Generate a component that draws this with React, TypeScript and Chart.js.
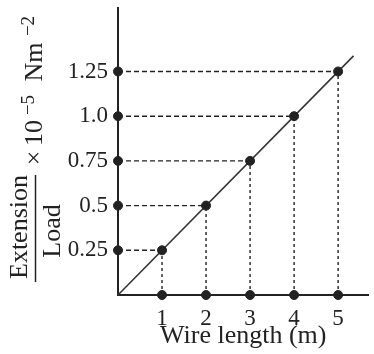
import React, { useEffect, useRef } from "react";
import { Chart, registerables } from "chart.js";

Chart.register(...registerables);

// ---- data ----
const wireLength = [1, 2, 3, 4, 5];
const extensionPerLoad = [0.25, 0.5, 0.75, 1.0, 1.25];
const xTickValues = [1, 2, 3, 4, 5];
const xTickLabels = ["1", "2", "3", "4", "5"];
const yTickValues = [0.25, 0.5, 0.75, 1.0, 1.25];
const yTickLabels = ["0.25", "0.5", "0.75", "1.0", "1.25"];
const fitLineX = [0, 5.35];
const fitLineY = [0, 1.3375];
const xAxisMax = 5.69;
const yAxisMax = 1.605;
const xTitle = "Wire length (m)";

const INK = "#222";
const FONT = '"Liberation Serif", "DejaVu Serif", serif';

const yTitlePlugin = {
  id: "yTitleFraction",
  afterDraw(chart: any) {
    const ctx = chart.ctx as CanvasRenderingContext2D;
    const big = `26px ${FONT}`;
    const small = `19px ${FONT}`;
    const put = (text: string, font: string, baselineX: number, centerY: number) => {
      ctx.save();
      ctx.translate(baselineX, centerY);
      ctx.rotate(-Math.PI / 2);
      ctx.font = font;
      ctx.fillStyle = INK;
      ctx.textAlign = "center";
      ctx.textBaseline = "alphabetic";
      ctx.fillText(text, 0, 0);
      ctx.restore();
    };
    ctx.save();
    put("Extension", big, 27, 227);
    put("Load", big, 60, 231);
    ctx.strokeStyle = INK;
    ctx.lineWidth = 1.5;
    ctx.beginPath();
    ctx.moveTo(35.5, 175);
    ctx.lineTo(35.5, 282);
    ctx.stroke();
    put("×", big, 42, 158);
    put("10", big, 42, 133);
    put("−5", small, 34, 105);
    put("Nm", big, 42, 62);
    put("−2", small, 34, 26);
    ctx.restore();
  },
};

export default function App() {
  const ref = useRef<HTMLCanvasElement | null>(null);

  useEffect(() => {
    if (!ref.current) return;
    Chart.defaults.font.family = FONT;
    Chart.defaults.color = INK;

    const points = wireLength.map((x, i) => ({ x, y: extensionPerLoad[i] }));
    const yAxisDots = extensionPerLoad.map((y) => ({ x: 0, y }));
    const xAxisDots = wireLength.map((x) => ({ x, y: 0 }));

    const horiz = wireLength.map((x, i) => ({
      type: "scatter" as const,
      data: [
        { x: 0, y: extensionPerLoad[i] },
        { x, y: extensionPerLoad[i] },
      ],
      showLine: true,
      borderColor: INK,
      borderWidth: 1.4,
      borderDash: [5, 3],
      pointRadius: 0,
      clip: false as any,
      order: 3,
    }));
    const vert = wireLength.map((x, i) => ({
      type: "scatter" as const,
      data: [
        { x, y: 0 },
        { x, y: extensionPerLoad[i] },
      ],
      showLine: true,
      borderColor: INK,
      borderWidth: 1.4,
      borderDash: [3, 3],
      pointRadius: 0,
      clip: false as any,
      order: 3,
    }));

    const zeroPad = (scale: any) => {
      scale.paddingTop = 0;
      scale.paddingBottom = 0;
      scale.paddingLeft = 0;
      scale.paddingRight = 0;
    };

    const chart = new Chart(ref.current, {
      type: "scatter",
      data: {
        datasets: [
          {
            data: [...points, ...yAxisDots, ...xAxisDots],
            backgroundColor: INK,
            borderColor: INK,
            pointRadius: 4.5,
            pointHoverRadius: 4.5,
            clip: false as any,
            order: 0,
          },
          {
            data: fitLineX.map((x, i) => ({ x, y: fitLineY[i] })),
            showLine: true,
            borderColor: "#333",
            borderWidth: 1.6,
            pointRadius: 0,
            clip: false as any,
            order: 1,
          },
          ...horiz,
          ...vert,
        ],
      },
      options: {
        animation: false,
        responsive: true,
        maintainAspectRatio: false,
        events: [],
        layout: { padding: { top: 8, right: 0, bottom: 0, left: 0 } },
        plugins: {
          legend: { display: false },
          tooltip: { enabled: false },
        },
        scales: {
          x: {
            type: "linear",
            min: 0,
            max: xAxisMax,
            grid: { display: false, drawTicks: false },
            border: { display: true, color: INK, width: 2 },
            afterBuildTicks: (scale: any) => {
              scale.ticks = xTickValues.map((v) => ({ value: v }));
            },
            afterFit: (scale: any) => {
              scale.height = 59;
              zeroPad(scale);
            },
            ticks: {
              padding: 10,
              color: INK,
              font: { size: 23, family: FONT },
              callback: (v: any) => {
                const i = xTickValues.indexOf(Number(v));
                return i >= 0 ? xTickLabels[i] : "";
              },
            },
            title: {
              display: true,
              text: xTitle,
              color: INK,
              font: { size: 26, family: FONT },
              padding: { top: 0, bottom: 2 },
            },
          },
          y: {
            type: "linear",
            min: 0,
            max: yAxisMax,
            grid: { display: false, drawTicks: false },
            border: { display: true, color: INK, width: 2 },
            afterBuildTicks: (scale: any) => {
              scale.ticks = yTickValues.map((v) => ({ value: v }));
            },
            afterFit: (scale: any) => {
              scale.width = 118;
              zeroPad(scale);
            },
            ticks: {
              padding: 10,
              color: INK,
              font: { size: 23, family: FONT },
              callback: (v: any) => {
                const i = yTickValues.indexOf(Number(v));
                return i >= 0 ? yTickLabels[i] : "";
              },
            },
          },
        },
      },
      plugins: [yTitlePlugin],
    } as any);

    return () => chart.destroy();
  }, []);

  return (
    <div style={{ position: "absolute", left: 0, top: 0, width: 374, height: 354, background: "#fff" }}>
      <canvas ref={ref} />
    </div>
  );
}
